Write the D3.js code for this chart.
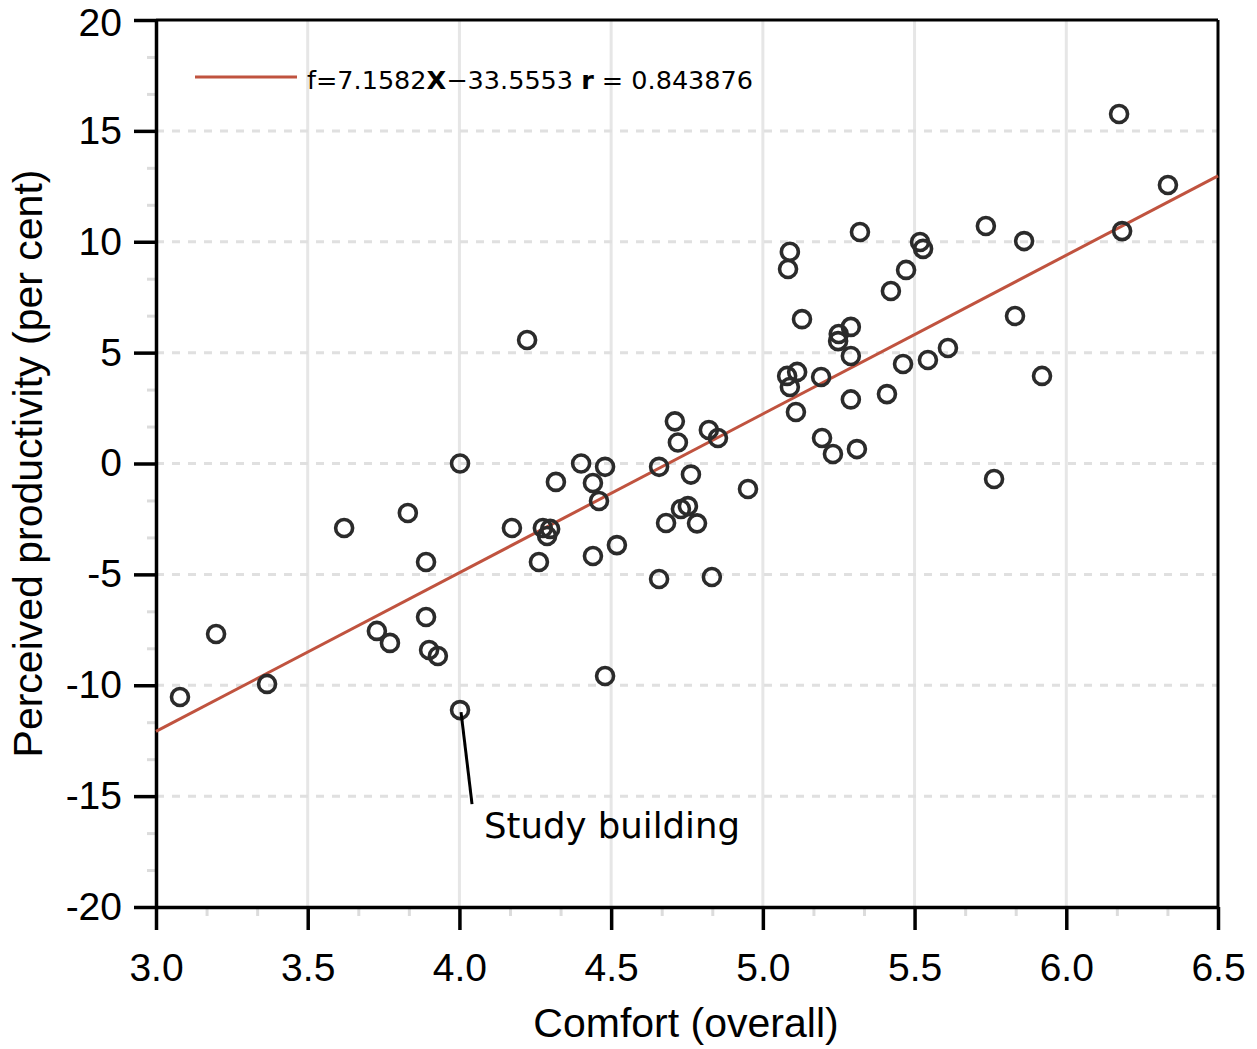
<!DOCTYPE html>
<html>
<head>
<meta charset="utf-8">
<script src="https://cdn.jsdelivr.net/npm/d3@7"></script>
<style>
  body { margin: 0; background: #fff; }
</style>
</head>
<body>
<div id="chart"></div>
<script>
// data
var comfort = [3.079, 3.198, 3.366, 3.620, 3.728, 3.771, 3.830, 3.890, 3.890, 3.900,
    3.929, 4.002, 4.002, 4.173, 4.223, 4.262, 4.275, 4.289, 4.299, 4.318,
    4.401, 4.440, 4.440, 4.460, 4.480, 4.480, 4.519, 4.658, 4.658, 4.681,
    4.710, 4.720, 4.730, 4.753, 4.763, 4.783, 4.822, 4.832, 4.852, 4.951,
    5.080, 5.083, 5.089, 5.089, 5.113, 5.109, 5.129, 5.192, 5.195, 5.231,
    5.250, 5.248, 5.290, 5.290, 5.290, 5.310, 5.320, 5.409, 5.422, 5.462,
    5.472, 5.518, 5.528, 5.544, 5.610, 5.735, 5.762, 5.831, 5.861, 5.920,
    6.174, 6.184, 6.335];
var productivity = [-10.53, -7.69, -9.94, -2.91, -7.55, -8.09, -2.23, -4.44, -6.92, -8.41,
    -8.68, -11.12, 0.0, -2.91, 5.57, -4.44, -2.91, -3.27, -2.95, -0.83,
    0.0, -0.88, -4.17, -1.69, -0.15, -9.58, -3.68, -5.21, -0.15, -2.68,
    1.90, 0.95, -2.05, -1.92, -0.50, -2.70, 1.51, -5.12, 1.15, -1.15,
    3.95, 8.77, 9.55, 3.45, 4.13, 2.32, 6.51, 3.90, 1.15, 0.43,
    5.84, 5.52, 6.16, 4.85, 2.89, 0.65, 10.44, 3.13, 7.78, 4.49,
    8.73, 9.99, 9.68, 4.67, 5.21, 10.71, -0.70, 6.65, 10.03, 3.95,
    15.76, 10.48, 12.56];
var fitSlope = 7.1582, fitIntercept = -33.5553;
var xTicks = [3.0, 3.5, 4.0, 4.5, 5.0, 5.5, 6.0, 6.5];
var yTicks = [-20, -15, -10, -5, 0, 5, 10, 15, 20];
var studyBuilding = 11; // index of the labelled point

var data = comfort.map(function(c, i) { return { x: c, y: productivity[i] }; });

var margin = { top: 20, right: 39, bottom: 142, left: 156 },
    width = 1257 - margin.left - margin.right,
    height = 1049 - margin.top - margin.bottom;

var svg = d3.select("#chart")
    .append("svg")
    .attr("width", 1257)
    .attr("height", 1049)
    .append("g")
    .attr("transform", "translate(" + margin.left + "," + margin.top + ")");

var x = d3.scaleLinear().domain([3.0, 6.5]).range([0, width]);
var y = d3.scaleLinear().domain([-20, 20]).range([height, 0]);

// minor ticks (grey, short)
var xMinor = d3.range(3.0, 6.5001, 1 / 6).filter(function(v) { return Math.abs(v * 2 - Math.round(v * 2)) > 0.01; });
var yMinor = d3.range(-20, 20.001, 5 / 3).filter(function(v) { return Math.abs(v / 5 - Math.round(v / 5)) > 0.01; });

svg.append("g")
    .attr("transform", "translate(0," + height + ")")
    .call(d3.axisBottom(x).tickValues(xMinor).tickSize(9).tickFormat(""))
    .call(function(g) { g.select(".domain").remove(); })
    .selectAll("line").attr("stroke", "#dcdcdc").attr("stroke-width", 3);

svg.append("g")
    .call(d3.axisLeft(y).tickValues(yMinor).tickSize(9).tickFormat(""))
    .call(function(g) { g.select(".domain").remove(); })
    .selectAll("line").attr("stroke", "#dcdcdc").attr("stroke-width", 3);

// grid
svg.append("g")
    .selectAll("line")
    .data(xTicks.slice(1, -1))
    .enter()
    .append("line")
    .attr("x1", function(d) { return x(d); })
    .attr("x2", function(d) { return x(d); })
    .attr("y1", 0)
    .attr("y2", height)
    .attr("stroke", "#e6e6e6")
    .attr("stroke-width", 3);

svg.append("g")
    .selectAll("line")
    .data(yTicks.slice(1, -1))
    .enter()
    .append("line")
    .attr("x1", 0)
    .attr("x2", width)
    .attr("y1", function(d) { return y(d); })
    .attr("y2", function(d) { return y(d); })
    .attr("stroke", "#e0e0e0")
    .attr("stroke-width", 3)
    .attr("stroke-dasharray", "8,8");

// frame top / right
svg.append("line").attr("x1", 0).attr("x2", width).attr("y1", 0).attr("y2", 0)
    .attr("stroke", "#000").attr("stroke-width", 3);
svg.append("line").attr("x1", width).attr("x2", width).attr("y1", 0).attr("y2", height)
    .attr("stroke", "#000").attr("stroke-width", 3);

// main axes
var xAxis = svg.append("g")
    .attr("transform", "translate(0," + height + ")")
    .call(d3.axisBottom(x).tickValues(xTicks).tickSize(23).tickSizeOuter(0).tickPadding(14).tickFormat(d3.format(".1f")));
var yAxis = svg.append("g")
    .call(d3.axisLeft(y).tickValues(yTicks).tickSize(22).tickSizeOuter(0).tickPadding(12)
        .tickFormat(function(d) { return String(d); }));

[xAxis, yAxis].forEach(function(a) {
    a.select(".domain").attr("stroke-width", 3.5);
    a.selectAll(".tick line").attr("stroke-width", 3.5);
    a.selectAll(".tick text")
        .attr("font-family", "Liberation Sans, Arial, sans-serif")
        .attr("font-size", 39)
        .attr("fill", "#000");
});
xAxis.selectAll(".tick text").attr("dy", "0.95em");
// top label sits a touch lower so it stays inside the page
yAxis.selectAll(".tick text").filter(function(d) { return d === 20; }).attr("dy", "0.4em");

// fitted line
svg.append("line")
    .attr("x1", x(3.0))
    .attr("y1", y(fitSlope * 3.0 + fitIntercept))
    .attr("x2", x(6.5))
    .attr("y2", y(fitSlope * 6.5 + fitIntercept))
    .attr("stroke", "#c0533f")
    .attr("stroke-width", 3);

// points
svg.append("g")
    .selectAll("circle")
    .data(data)
    .enter()
    .append("circle")
    .attr("cx", function(d) { return x(d.x); })
    .attr("cy", function(d) { return y(d.y); })
    .attr("r", 8.5)
    .attr("fill", "none")
    .attr("stroke", "#2b2b2b")
    .attr("stroke-width", 3.6);

// annotation
var sb = data[studyBuilding];
svg.append("line")
    .attr("x1", x(sb.x) + 1)
    .attr("y1", y(sb.y) + 2)
    .attr("x2", x(sb.x) + 12)
    .attr("y2", y(sb.y) + 94)
    .attr("stroke", "#000")
    .attr("stroke-width", 3);
svg.append("text")
    .attr("x", 328)
    .attr("y", 818)
    .attr("font-family", "DejaVu Sans, sans-serif")
    .attr("font-size", 35.5)
    .attr("fill", "#000")
    .text("Study building");

// legend
svg.append("line")
    .attr("x1", 39).attr("x2", 141)
    .attr("y1", 57).attr("y2", 57)
    .attr("stroke", "#c0533f")
    .attr("stroke-width", 3);
var leg = svg.append("text")
    .attr("x", 151)
    .attr("y", 69)
    .attr("font-family", "DejaVu Sans, sans-serif")
    .attr("font-size", 25.5)
    .attr("fill", "#000");
leg.append("tspan").text("f=7.1582");
leg.append("tspan").attr("font-weight", "bold").text("X");
leg.append("tspan").text("\u221233.5553 ");
leg.append("tspan").attr("font-weight", "bold").text("r");
leg.append("tspan").text(" = 0.843876");

// axis titles
svg.append("text")
    .attr("x", width / 2 - 1)
    .attr("y", height + 130)
    .attr("text-anchor", "middle")
    .attr("font-family", "Liberation Sans, Arial, sans-serif")
    .attr("font-size", 41)
    .text("Comfort (overall)");

svg.append("text")
    .attr("transform", "translate(" + (-114) + "," + (height / 2) + ") rotate(-90)")
    .attr("text-anchor", "middle")
    .attr("font-family", "Liberation Sans, Arial, sans-serif")
    .attr("font-size", 41)
    .text("Perceived productivity (per cent)");
</script>
</body>
</html>
